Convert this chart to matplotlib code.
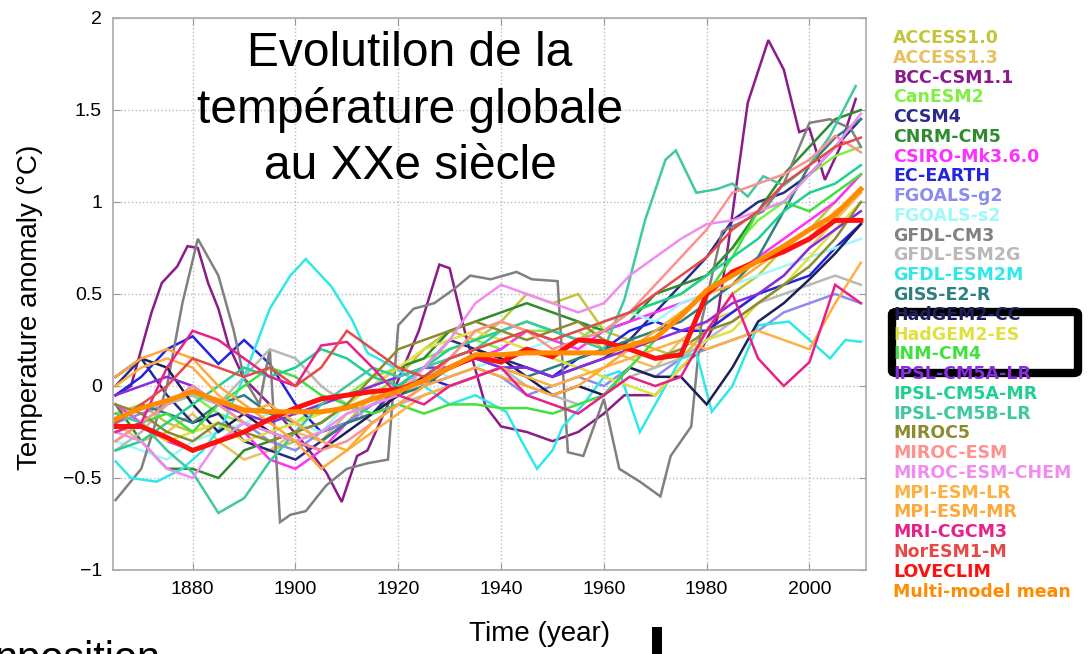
import matplotlib
matplotlib.use("Agg")
import matplotlib.pyplot as plt
from matplotlib.patches import FancyBboxPatch

plt.rcParams['font.family'] = ['Liberation Sans', 'DejaVu Sans']

# Années communes (pas de 5 ans)
years = list(range(1865, 2011, 5))

access10 = [-0.15,-0.1,-0.2,-0.25,-0.2,-0.3,-0.35,-0.3,-0.25,-0.2, -0.05,0.05,0.2,0.3,0.25,0.35,0.5,0.45,0.5,0.3, 0.25,0.2,0.15,0.3,0.5,0.6,0.75,0.85,1.0,1.15]
access13 = [-0.2,-0.3,-0.25,-0.15,-0.3,-0.4,-0.35,-0.25,-0.3,-0.15, -0.1,0.0,0.05,0.15,0.3,0.35,0.3,0.25,0.3,0.2, 0.15,0.1,0.25,0.35,0.4,0.5,0.6,0.75,0.9,1.05]
canesm2 = [-0.25,-0.2,-0.1,-0.05,-0.15,-0.2,-0.25,-0.2,-0.1,-0.05, 0.05,0.1,0.15,0.2,0.25,0.2,0.3,0.3,0.25,0.35, 0.4,0.45,0.5,0.6,0.75,0.9,1.0,1.15,1.25,1.3]
ccsm4 = [0.0,0.15,-0.05,-0.2,-0.15,-0.3,-0.35,-0.4,-0.3,-0.2, -0.15,0.0,0.1,0.25,0.2,0.15,0.1,0.05,0.1,0.15, 0.25,0.4,0.55,0.7,0.9,1.0,1.05,1.15,1.3,1.45]
cnrm = [-0.1,-0.3,-0.45,-0.45,-0.5,-0.35,-0.3,-0.25,-0.2,-0.1, 0.0,0.1,0.15,0.3,0.35,0.4,0.45,0.4,0.35,0.3, 0.35,0.5,0.55,0.6,0.75,0.95,1.15,1.3,1.45,1.5]
csiro = [-0.1,-0.2,-0.3,-0.35,-0.3,-0.25,-0.4,-0.45,-0.35,-0.2, -0.15,-0.1,0.0,0.1,0.15,0.2,0.3,0.25,0.2,0.3, 0.35,0.4,0.45,0.5,0.6,0.7,0.8,0.9,1.0,1.15]
ecearth = [-0.05,0.05,0.2,0.27,0.12,0.25,0.12,-0.1,-0.25,-0.2, -0.1,-0.05,0.05,0.0,0.05,0.1,0.1,0.05,0.15,0.2, 0.3,0.35,0.3,0.3,0.4,0.5,0.55,0.6,0.75,0.88]
fgoalsg2 = [-0.2,-0.15,-0.1,0.0,-0.1,-0.2,-0.3,-0.35,-0.25,-0.2, -0.1,-0.05,0.0,0.05,0.1,0.05,-0.05,0.0,0.05,0.0, 0.1,0.05,0.15,0.2,0.25,0.3,0.4,0.45,0.5,0.45]
fgoalss2 = [-0.3,-0.35,-0.4,-0.3,-0.25,-0.2,-0.15,-0.2,-0.25,-0.1, 0.0,0.05,0.1,0.05,0.1,0.15,0.2,0.25,0.3,0.35, 0.4,0.35,0.45,0.5,0.55,0.6,0.65,0.7,0.75,0.8]
gfdlesm2g = [-0.35,-0.25,-0.1,-0.05,-0.1,0.05,0.2,0.15,0.0,-0.1, -0.2,-0.1,-0.05,0.0,0.05,0.1,0.0,-0.05,-0.1,-0.05, 0.05,0.1,0.15,0.25,0.35,0.45,0.5,0.55,0.6,0.55]
giss = [-0.2,-0.1,-0.15,-0.2,-0.1,-0.05,-0.15,-0.2,-0.3,-0.2, -0.15,-0.05,0.0,0.1,0.15,0.1,0.05,0.1,0.15,0.2, 0.25,0.3,0.35,0.45,0.55,0.7,0.95,1.2,1.35,1.45]
hadcc = [0.05,0.15,0.1,-0.1,-0.25,-0.15,-0.25,-0.3,-0.35,-0.25, -0.15,-0.05,0.05,0.15,0.2,0.15,0.05,-0.05,0.0,-0.05, 0.1,0.05,0.05,-0.1,0.1,0.35,0.45,0.58,0.72,0.88]
hades = [-0.15,-0.2,-0.3,-0.25,-0.2,-0.3,-0.25,-0.2,-0.15,-0.1, 0.0,0.1,0.2,0.25,0.3,0.25,0.2,0.15,0.1,0.05, 0.0,-0.05,0.1,0.25,0.3,0.45,0.55,0.7,0.85,1.0]
inm = [-0.3,-0.2,-0.15,-0.25,-0.1,0.0,0.1,0.05,-0.05,-0.1, -0.15,-0.1,-0.15,-0.1,-0.1,-0.12,-0.12,-0.15,-0.1,-0.05, 0.1,0.25,0.4,0.5,0.7,0.95,1.0,0.95,1.05,1.15]
ipslalr = [-0.05,0.0,0.05,0.0,-0.1,-0.15,-0.2,-0.15,-0.1,-0.05, 0.0,0.05,0.1,0.1,0.15,0.1,0.1,0.05,0.1,0.15, 0.2,0.25,0.3,0.35,0.45,0.5,0.6,0.75,0.85,0.95]
ipslamr = [-0.35,-0.3,-0.2,-0.1,0.0,0.1,0.05,0.1,0.2,0.15, 0.05,0.0,0.1,0.2,0.25,0.3,0.35,0.3,0.25,0.3, 0.4,0.45,0.5,0.6,0.7,0.8,0.95,1.05,1.1,1.2]
miroc5 = [-0.1,-0.15,-0.25,-0.3,-0.2,-0.25,-0.3,-0.25,-0.2,-0.1, 0.05,0.2,0.25,0.3,0.35,0.3,0.25,0.3,0.35,0.25, 0.2,0.15,0.2,0.3,0.35,0.45,0.55,0.65,0.8,1.0]
mirocesm = [-0.3,-0.2,-0.1,0.0,-0.1,-0.2,-0.25,-0.3,-0.35,-0.3, -0.2,-0.1,0.0,0.15,0.3,0.35,0.3,0.2,0.25,0.3, 0.4,0.55,0.7,0.85,1.05,1.1,1.15,1.23,1.36,1.27]
mirocchem = [-0.25,-0.3,-0.45,-0.5,-0.3,-0.2,-0.25,-0.3,-0.25,-0.15, -0.1,-0.05,0.1,0.25,0.45,0.55,0.5,0.45,0.4,0.45, 0.6,0.7,0.8,0.88,0.9,0.95,1.0,1.15,1.3,1.48]
mpilr = [0.0,0.1,0.15,0.1,-0.05,-0.15,-0.1,-0.2,-0.3,-0.35, -0.25,-0.15,-0.05,0.0,0.05,0.1,0.05,0.0,0.05,0.1, 0.15,0.2,0.25,0.2,0.25,0.3,0.25,0.2,0.45,0.67]
mpimr = [0.05,0.15,0.2,0.15,0.0,-0.1,-0.2,-0.3,-0.45,-0.35, -0.2,-0.1,0.0,0.05,0.1,0.05,0.0,-0.05,0.0,0.1, 0.2,0.3,0.4,0.5,0.55,0.65,0.75,0.8,0.95,1.05]
mri = [-0.25,-0.2,0.1,0.3,0.25,0.15,0.05,0.0,0.22,0.24, 0.1,-0.05,-0.1,0.0,0.05,0.1,-0.05,-0.1,-0.15,-0.05, 0.05,0.0,0.05,0.3,0.5,0.15,0.0,0.13,0.55,0.45]
noresm = [-0.2,-0.1,0.0,0.15,0.1,0.05,0.1,0.0,0.1,0.3, 0.2,0.1,0.05,0.15,0.2,0.25,0.3,0.25,0.3,0.35, 0.4,0.5,0.6,0.7,0.85,0.95,1.1,1.2,1.3,1.35]
loveclim = [-0.22,-0.22,-0.28,-0.35,-0.3,-0.25,-0.18,-0.12,-0.07,-0.05, -0.03,-0.02,0.03,0.1,0.16,0.13,0.2,0.16,0.25,0.24, 0.2,0.15,0.17,0.5,0.62,0.68,0.73,0.8,0.9,0.9]
mmm = [-0.18,-0.12,-0.08,-0.03,-0.08,-0.13,-0.14,-0.14,-0.14,-0.12, -0.07,-0.03,0.03,0.1,0.17,0.17,0.18,0.18,0.18,0.18, 0.22,0.26,0.38,0.52,0.6,0.68,0.76,0.85,0.93,1.07]

# séries avec leurs propres années (pics marqués)
bcc_years = [1865,1868,1870,1872,1874,1877,1879,1881,1883,1885,1887,1890,1895,1901,1906,1909,1912,1914,1918,1924,1928,1930,1933,1937,1940,1945,1950,1955,1960,1964,1970,1975,1979,1982,1984,1988,1992,1995,1998,2000,2003,2006,2009]
bcc = [-0.05,0.0,0.2,0.4,0.56,0.65,0.76,0.75,0.56,0.42,0.22,0.04,-0.1,-0.29,-0.47,-0.63,-0.38,-0.35,-0.1,0.3,0.66,0.64,0.29,-0.11,-0.22,-0.25,-0.3,-0.25,-0.15,-0.05,-0.05,0.1,0.2,0.36,0.73,1.54,1.88,1.72,1.38,1.4,1.12,1.3,1.56]

gfdlcm3_years = [1865,1870,1875,1878,1881,1885,1888,1890,1893,1895,1897,1899,1902,1906,1910,1914,1918,1920,1923,1927,1931,1934,1938,1943,1946,1951,1953,1956,1960,1963,1967,1971,1973,1977,1979,1983,1986,1991,1995,2000,2004,2008,2010]
gfdlcm3 = [-0.62,-0.45,0.0,0.45,0.8,0.6,0.3,0.04,-0.1,0.2,-0.74,-0.7,-0.68,-0.54,-0.45,-0.42,-0.4,0.33,0.42,0.45,0.53,0.6,0.58,0.62,0.58,0.57,-0.36,-0.38,-0.07,-0.45,-0.52,-0.6,-0.38,-0.22,0.35,0.84,0.88,0.95,1.1,1.43,1.45,1.4,1.3]

esm2m_years = [1865,1868,1873,1878,1882,1886,1890,1895,1899,1902,1907,1911,1914,1918,1925,1930,1935,1941,1944,1947,1950,1952,1956,1960,1963,1967,1970,1975,1978,1981,1985,1990,1996,2000,2004,2007,2010]
esm2m = [-0.41,-0.5,-0.52,-0.45,-0.35,-0.2,0.05,0.42,0.6,0.69,0.54,0.36,0.18,0.12,0.0,-0.1,-0.05,-0.14,-0.3,-0.45,-0.35,-0.22,-0.1,0.05,0.08,-0.25,-0.1,0.15,0.18,-0.14,0.0,0.33,0.35,0.25,0.15,0.25,0.24]

ipsl5b_years = [1865,1870,1875,1880,1885,1890,1895,1900,1905,1910,1915,1920,1925,1930,1935,1940,1945,1950,1955,1960,1964,1968,1972,1974,1978,1982,1985,1988,1991,1995,2000,2004,2009]
ipsl5b = [-0.15,-0.2,-0.35,-0.47,-0.69,-0.61,-0.41,-0.25,-0.1,0.0,0.1,0.05,0.1,0.15,0.2,0.3,0.35,0.3,0.25,0.2,0.47,0.9,1.23,1.28,1.05,1.07,1.1,1.03,1.14,1.09,1.2,1.36,1.63]

names = ["ACCESS1.0", "ACCESS1.3", "BCC-CSM1.1", "CanESM2", "CCSM4", "CNRM-CM5",
         "CSIRO-Mk3.6.0", "EC-EARTH", "FGOALS-g2", "FGOALS-s2", "GFDL-CM3",
         "GFDL-ESM2G", "GFDL-ESM2M", "GISS-E2-R", "HadGEM2-CC", "HadGEM2-ES",
         "INM-CM4", "IPSL-CM5A-LR", "IPSL-CM5A-MR", "IPSL-CM5B-LR", "MIROC5",
         "MIROC-ESM", "MIROC-ESM-CHEM", "MPI-ESM-LR", "MPI-ESM-MR", "MRI-CGCM3",
         "NorESM1-M", "LOVECLIM", "Multi-model mean"]
colors = ["#c4c43a", "#e8c060", "#8b1a8b", "#80f040", "#2a2a8a", "#2e8b2e",
          "#ff30ff", "#2424e0", "#8c8cf0", "#a0f8f8", "#808080",
          "#b8b8b8", "#30e8e8", "#2e8080", "#1e1e5a", "#e0e040",
          "#40e040", "#8a2be2", "#20d090", "#40c8a0", "#8b8b30",
          "#ff9090", "#f08cf0", "#ffb040", "#ffa838", "#e8208a",
          "#e84848", "#ff1010", "#ff8c00"]

series = [(years, access10), (years, access13), (bcc_years, bcc), (years, canesm2),
          (years, ccsm4), (years, cnrm), (years, csiro), (years, ecearth),
          (years, fgoalsg2), (years, fgoalss2), (gfdlcm3_years, gfdlcm3),
          (years, gfdlesm2g), (esm2m_years, esm2m), (years, giss), (years, hadcc),
          (years, hades), (years, inm), (years, ipslalr), (years, ipslamr),
          (ipsl5b_years, ipsl5b), (years, miroc5), (years, mirocesm),
          (years, mirocchem), (years, mpilr), (years, mpimr), (years, mri),
          (years, noresm), (years, loveclim), (years, mmm)]

yticks = [-1, -0.5, 0, 0.5, 1, 1.5, 2]
ytick_labels = ["\u22121", "\u22120.5", "0", "0.5", "1", "1.5", "2"]
xticks = [1880, 1900, 1920, 1940, 1960, 1980, 2000]

fig = plt.figure(figsize=(10.9, 6.54), dpi=100)
ax = fig.add_axes([113/1090, 1 - 570/654, (866-113)/1090, (570-18)/654])

for i, (xs, ys) in enumerate(series):
    lw = 1.8
    if names[i] in ("LOVECLIM", "Multi-model mean"):
        lw = 3.6
    ax.plot(xs, ys, color=colors[i], lw=lw, solid_joinstyle='miter')

ax.set_xlim(1864.5, 2011)
ax.set_ylim(-1, 2)
ax.set_yticks(yticks)
ax.set_yticklabels(ytick_labels)
ax.set_xticks(xticks)
ax.tick_params(direction='in', top=True, right=True, length=5, color='#999999',
               labelsize=14, pad=8)
for s in ax.spines.values():
    s.set_color('#aaaaaa')
    s.set_linewidth(1.2)
ax.grid(True, ls=':', color='#bbbbbb', lw=1)

ax.set_xlabel("Time (year)", fontsize=20)
ax.xaxis.set_label_coords((540-113)/(866-113), (570-621)/552)
ax.xaxis.label.set_va('top')
ax.set_ylabel("Temperature anomaly (\u00b0C)", fontsize=20)
ax.yaxis.set_label_coords((30-113)/753, (570-307)/552)
ax.yaxis.label.set_va('center')

# légende en texte coloré
for i, nm in enumerate(names):
    fig.text(893/1090, 1 - (38 + i*19.77)/654, nm, color=colors[i],
             fontsize=12.5, fontweight='bold', va='center', ha='left',
             family='DejaVu Sans')

# annotations de la diapo
fig.text(410/1090, 1 - 110/654, "Evolutilon de la\ntempérature globale\nau XXe siècle",
         fontsize=34.5, ha='center', va='center', linespacing=1.3)
fig.text(-6/1090, 1 - 671/654, "nposition", fontsize=30, ha='left', va='baseline')
box = FancyBboxPatch((892/1090, 1 - 373/654), (1078-892)/1090, (373-312)/654,
                     boxstyle="round,pad=0,rounding_size=0.004", transform=fig.transFigure,
                     fill=False, edgecolor='black', lw=6)
fig.patches.append(box)
bar = FancyBboxPatch((652/1090, 0), 10/1090, 27/654, boxstyle="square,pad=0",
                     transform=fig.transFigure, facecolor='black', edgecolor='none')
fig.patches.append(bar)

fig.savefig("out.png", dpi=100)
